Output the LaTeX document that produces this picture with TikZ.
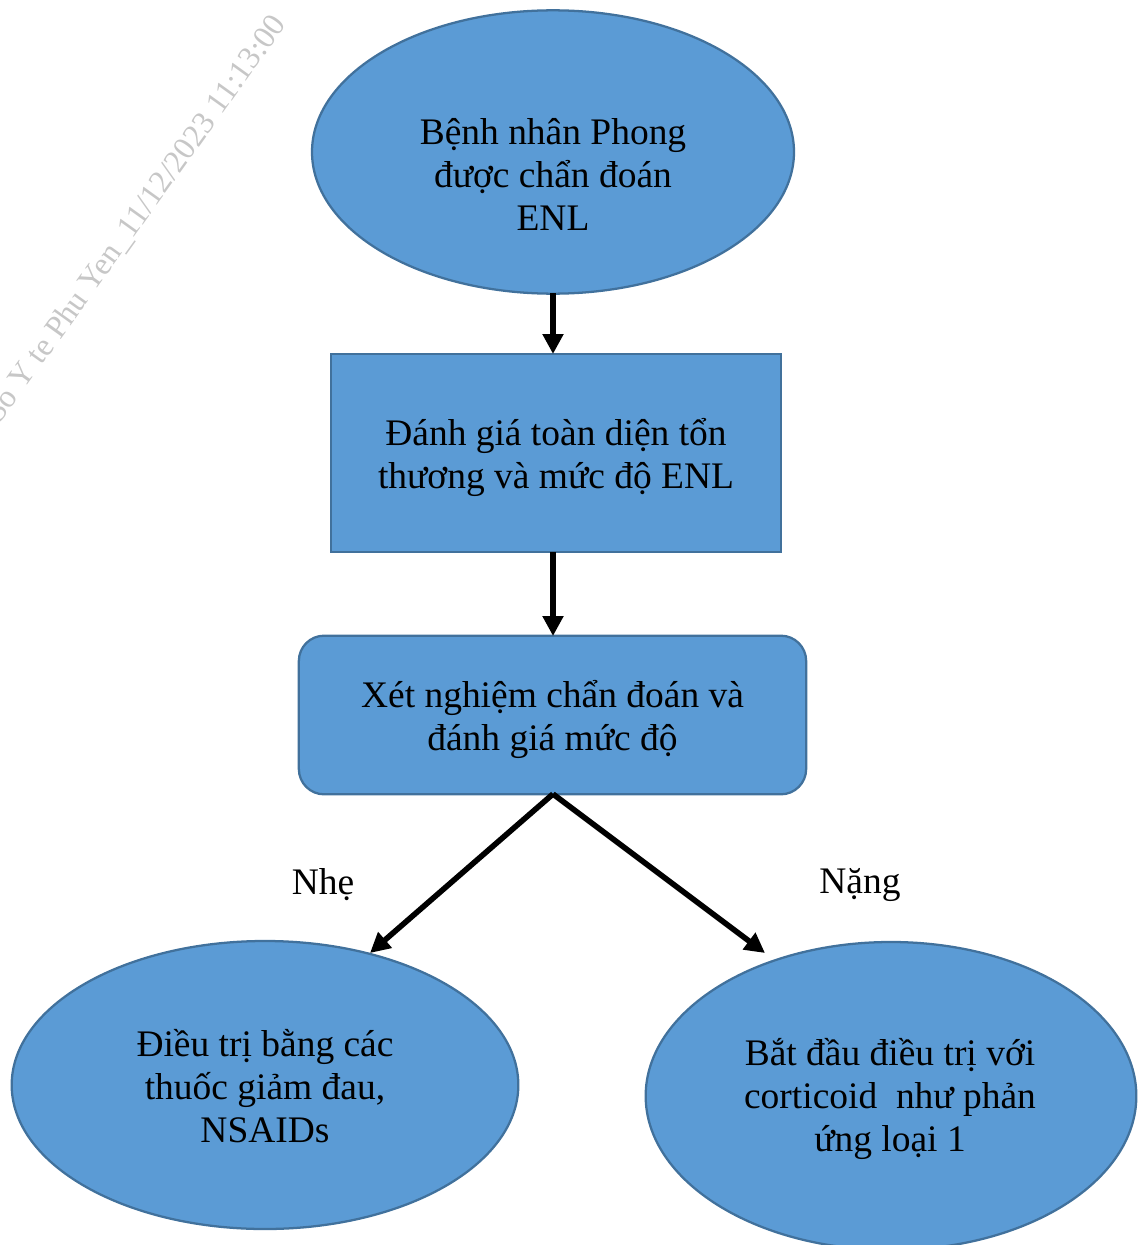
\documentclass[tikz,border=0pt]{standalone}
\usepackage{fontspec}
\setmainfont{Liberation Serif}
\usetikzlibrary{shapes.geometric,arrows.meta}
\definecolor{fillb}{HTML}{5B9BD5}
\definecolor{lineb}{HTML}{41719C}
\tikzset{
 px/.style={x=0.75pt,y=-0.75pt},
 txt/.style={font=\fontsize{28.1}{32.2}\selectfont,align=center,text=black,inner sep=0pt},
 oval/.style={ellipse,draw=lineb,fill=fillb,line width=1.7pt,inner sep=0pt},
 boxn/.style={rectangle,draw=lineb,fill=fillb,line width=1.7pt,inner sep=0pt},
 rbox/.style={boxn,rounded corners=19pt},
 conn/.style={line width=4.2pt,-{Triangle[length=15pt,width=15pt]}},
}
\begin{document}
\begin{tikzpicture}[px]
\useasboundingbox (0,0) rectangle (1139,1245);
\node[rotate=54.3,text=black!22,font=\fontsize{24}{26}\selectfont,anchor=east,inner sep=0pt] (wm) at (280,19) {So Y te Phu Yen\_11/12/2023 11:13:00};
\node[oval,minimum width=361.5pt,minimum height=212.5pt] (a) at (553,152) {};
\node[boxn,minimum width=337pt,minimum height=148.5pt] (b) at (556,453) {};
\node[rbox,minimum width=380.5pt,minimum height=119pt] (c) at (552.5,715) {};
\node[oval,minimum width=380pt,minimum height=216pt] (d) at (265,1085) {};
\node[oval,minimum width=368pt,minimum height=231pt] (e) at (891,1096) {};
\node[txt] (at) at (553,174.5) {Bệnh nhân Phong\\được chẩn đoán\\ENL};
\node[txt] (bt) at (556,457) {Đánh giá toàn diện tổn\\thương và mức độ ENL};
\node[txt] (ct) at (552.5,719) {Xét nghiệm chẩn đoán và\\đánh giá mức độ};
\node[txt] (dt) at (265,1086) {Điều trị bằng các\\thuốc giảm đau,\\NSAIDs};
\node[txt] (et) at (890,1099) {Bắt đầu điều trị với\\corticoid\ \ như phản\\ứng loại 1};
\coordinate (a1) at (553,293);
\coordinate (b1) at (553,354);
\coordinate (b2) at (553,552);
\coordinate (c1) at (553,636);
\coordinate (c2) at (553,794);
\coordinate (d1) at (370,953);
\coordinate (e1) at (765,953);
\draw[conn] (a1) -- (b1);
\draw[conn] (b2) -- (c1);
\draw[conn] (c2) -- (d1);
\draw[conn] (c2) -- (e1);
\node[txt] (n) at (323,885) {Nhẹ};
\node[txt] (m) at (860,885) {Nặng};
\end{tikzpicture}
\end{document}
